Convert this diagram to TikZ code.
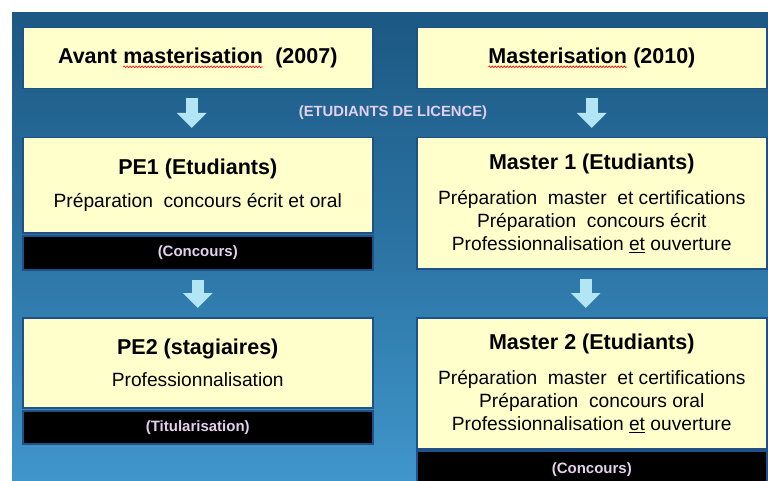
\documentclass[tikz,border=0pt]{standalone}
\usepackage{fontspec}
\setmainfont{Liberation Sans}
\usepackage{xcolor}
\usetikzlibrary{positioning, arrows.meta, decorations.pathmorphing}

\definecolor{boxyellow}{HTML}{FFFFCC}
\definecolor{boxblue}{HTML}{1F5088}
\definecolor{arrowcyan}{HTML}{B2E6F4}
\definecolor{labelpink}{HTML}{E4D0EC}
\definecolor{bgtop}{HTML}{1C5883}
\definecolor{bgmid}{HTML}{2B74A4}
\definecolor{bgbot}{HTML}{4096CB}

% red spell-check wave under a word
\newcommand\redwave[1]{\tikz[baseline=(w.base)]{\node[inner sep=0pt, outer sep=0pt, minimum width=0pt, minimum height=0pt, draw=none, fill=none, anchor=center] (w) {#1};
    \draw[red, line width=0.6pt, decorate, decoration={snake, amplitude=0.9pt, segment length=3pt}] ([yshift=-3pt]w.base west) -- ([yshift=-3pt]w.base east);}}

\begin{document}
\begin{tikzpicture}[x=1pt, y=-1pt,
                yearbox/.style={draw=boxblue, line width=1.5pt, fill=boxyellow, minimum width=350pt, minimum height=61pt, font=\fontsize{21.5}{25}\selectfont\bfseries}, % top boxes
                stagebox/.style={draw=boxblue, line width=1.5pt, fill=boxyellow, minimum width=350pt, align=center, font=\fontsize{19.2}{23}\selectfont}, % stage boxes
                exambar/.style={draw=boxblue, line width=1.5pt, fill=black, minimum width=350pt, text=labelpink, font=\fontsize{15}{17}\selectfont\bfseries}, % black bars
                bigarrow/.style={arrowcyan, line width=12pt, -{Triangle[width=29pt,length=15pt]}, shorten <=9pt, shorten >=9pt} % block arrows
                ]
                \useasboundingbox (0,0) rectangle (768,481);
                \clip (0,0) rectangle (768,481);
                \shade[top color=bgtop, bottom color=bgbot, middle color=bgmid] (12,13) rectangle (768,481);

                \node[yearbox, anchor=north west] (avant) at (22,27) {Avant \redwave{masterisation}~ (2007)};
                \node[yearbox, anchor=north west] (master) at (416,27) {\redwave{Masterisation} (2010)};

                \node[text=labelpink, font=\fontsize{14.8}{17}\selectfont\bfseries] (licence) at (393,113) {(ETUDIANTS DE LICENCE)};

                \node[stagebox, anchor=north west, minimum height=95pt] (pe1) at (22,137)
                    {{\fontsize{21.5}{25}\selectfont\bfseries PE1 (Etudiants)}\\[10pt] Préparation~ concours écrit et oral};
                \node[exambar, minimum height=34pt, below=1.5pt of pe1] (concours1) {(Concours)};

                \node[stagebox, anchor=north west, minimum height=131pt] (m1) at (416,137)
                    {{\fontsize{21.5}{25}\selectfont\bfseries Master 1 (Etudiants)}\\[12pt] Préparation~ master~ et certifications\\ Préparation~ concours écrit\\ Professionnalisation \underline{et} ouverture};

                \node[stagebox, anchor=north west, minimum height=90pt] (pe2) at (22,317)
                    {{\fontsize{21.5}{25}\selectfont\bfseries PE2 (stagiaires)}\\[9pt] Professionnalisation};
                \node[exambar, minimum height=33pt, below=1.5pt of pe2] (titular) {(Titularisation)};

                \node[stagebox, anchor=north west, minimum height=131pt] (m2) at (416,317)
                    {{\fontsize{21.5}{25}\selectfont\bfseries Master 2 (Etudiants)}\\[12pt] Préparation~ master~ et certifications\\ Préparation~ concours oral\\ Professionnalisation \underline{et} ouverture};
                \node[exambar, minimum height=40pt, anchor=north west] (concours2) at (416,450) {\raisebox{6pt}{(Concours)}};

                % arrows between the stages
                \draw[bigarrow] ([xshift=-6pt]avant.south) -- ([xshift=-6pt]pe1.north);
                \draw[bigarrow] (master.south) -- (m1.north);
                \draw[bigarrow] (concours1.south) -- (pe2.north);
                \draw[bigarrow] ([xshift=-6pt]m1.south) -- ([xshift=-6pt]m2.north);
            \end{tikzpicture}
\end{document}
